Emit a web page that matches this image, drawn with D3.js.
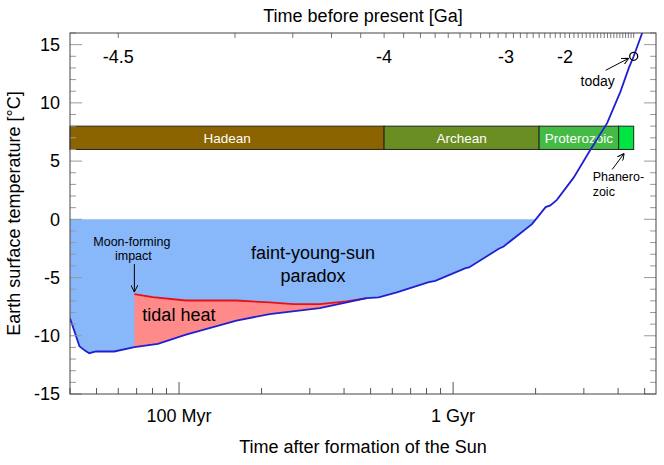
<!DOCTYPE html>
<html>
<head>
<meta charset="UTF-8">
<title>Faint young Sun paradox</title>
<script src="https://cdn.jsdelivr.net/npm/d3@7"></script>
<style>
  body { margin: 0; background: #fff; }
  svg { font-family: "Liberation Sans", Arial, sans-serif; }
</style>
</head>
<body>
<svg id="chart" width="664" height="465"></svg>
<script>
// Earth surface temperature, time after formation of the Sun [Myr]
var tempTime = [40, 41.5, 43.3, 45.2, 47, 49.8, 58, 68.7, 83.7, 106, 162, 214, 326, 484, 535, 623,
                815, 861, 1110, 1143, 1468, 1529, 1940, 2003, 2176, 2263, 2392, 2757, 3170, 3648,
                4080, 4375, 4560, 4950];
var tempC = [-8.5, -9.6, -10.9, -11.25, -11.5, -11.35, -11.35, -10.97, -10.7, -9.91, -8.69, -8.14, -7.62, -6.77, -6.7, -6.28,
             -5.39, -5.28, -4.19, -4.13, -2.53, -2.33, -0.41, 0, 1.05, 1.2, 1.67, 3.6, 5.97, 8.26,
             10.97, 12.98, 14, 16.3];

// tidal heating (top of the red band)
var tidalTime = [68.7, 80.2, 106, 162, 214, 261, 326, 408, 484];
var tidalC = [-6.42, -6.68, -6.97, -6.97, -7.14, -7.28, -7.28, -7.05, -6.77];

// geologic eons [Ga before present]
var eonStart = [4.52, 4.0, 2.5, 0.541];
var eonEnd = [4.0, 2.5, 0.541, 0];
var eonLabels = ["Hadean", "Archean", "Proterozoic", ""];
var eonColors = ["#8b6400", "#6b8e23", "#44bb44", "#00e640"];
var eonBand = [6, 8]; // drawn between these temperatures

// ticks
var bottomTicks = [40, 50, 60, 70, 80, 90, 100, 200, 300, 400, 500, 600, 700, 800, 900, 1000, 2000, 3000, 4000, 5000];
var bottomMajor = [100, 1000];
var bottomLabels = ["100 Myr", "1 Gyr"];
var topTicks = d3.range(-45, 1).map(function(d) { return d / 10; });
var topLabels = [-4.5, -4, -3, -2];
var yTicks = d3.range(-15, 17);

var sunAge = 4560;   // Myr, today
var impactTime = 68.7;

var svg = d3.select("#chart"),
    margin = {top: 33, right: 8, bottom: 71, left: 70},
    W = +svg.attr("width"), H = +svg.attr("height");

var x = d3.scaleLog().domain([40, 5500]).range([margin.left, W - margin.right]);
var y = d3.scaleLinear().domain([-15, 16]).range([H - margin.bottom, margin.top]);
// Ga before present -> Myr after formation
function ago(ga) { return sunAge + ga * 1000; }

var temp = tempTime.map(function(t, i) { return {t: t, v: tempC[i]}; });
var tidal = tidalTime.map(function(t, i) { return {t: t, v: tidalC[i]}; });

var defs = svg.append("defs");
defs.append("clipPath").attr("id", "clip")
  .append("rect")
    .attr("x", x.range()[0]).attr("y", y.range()[1])
    .attr("width", x.range()[1] - x.range()[0])
    .attr("height", y.range()[0] - y.range()[1]);

defs.append("marker")
    .attr("id", "arrow")
    .attr("viewBox", "0 0 10 10")
    .attr("refX", 10).attr("refY", 5)
    .attr("markerWidth", 7).attr("markerHeight", 7)
    .attr("markerUnits", "userSpaceOnUse")
    .attr("orient", "auto")
  .append("path")
    .attr("d", "M0,0 L10,5 L0,10")
    .attr("fill", "none")
    .attr("stroke", "#000")
    .attr("stroke-width", 1.4);

var plot = svg.append("g").attr("clip-path", "url(#clip)");

//------------------------------------------------------------------
// faint-young-sun area (below 0 °C)
var cold = temp.filter(function(d) { return d.v <= 0; });
plot.append("path")
  .datum(cold)
  .attr("fill", "#88b8fa")
  .attr("d", d3.area()
    .x(function(d) { return x(d.t); })
    .y0(y(0))
    .y1(function(d) { return y(d.v); }));

// tidal heat band
var band = tidal.concat(temp.filter(function(d) {
  return d.t >= tidalTime[0] && d.t <= tidalTime[tidalTime.length - 1];
}).reverse());
var line = d3.line()
  .x(function(d) { return x(d.t); })
  .y(function(d) { return y(d.v); });

plot.append("path")
  .attr("fill", "#ff8a8a")
  .attr("d", line(band) + "Z");

plot.append("path")
  .datum(tidal)
  .attr("fill", "none")
  .attr("stroke", "#e8101a")
  .attr("stroke-width", 1.8)
  .attr("d", line);

//------------------------------------------------------------------
// eons
var eon = svg.append("g").selectAll("g")
  .data(eonStart)
  .enter().append("g");

eon.append("rect")
  .attr("x", function(d, i) { return x(ago(-eonStart[i])); })
  .attr("width", function(d, i) { return x(ago(-eonEnd[i])) - x(ago(-eonStart[i])); })
  .attr("y", y(eonBand[1]))
  .attr("height", y(eonBand[0]) - y(eonBand[1]))
  .attr("fill", function(d, i) { return eonColors[i]; })
  .attr("stroke", "#222")
  .attr("stroke-width", 1);

eon.append("text")
  .attr("x", function(d, i) { return (x(ago(-eonStart[i])) + x(ago(-eonEnd[i]))) / 2; })
  .attr("y", y((eonBand[0] + eonBand[1]) / 2))
  .attr("dy", "0.35em")
  .attr("text-anchor", "middle")
  .attr("fill", "#fff")
  .attr("font-size", 13.5)
  .text(function(d, i) { return eonLabels[i]; });

// temperature curve on top
svg.append("g").attr("clip-path", "url(#clip)")
  .append("path")
  .datum(temp)
  .attr("fill", "none")
  .attr("stroke", "#2020d0")
  .attr("stroke-width", 1.8)
  .attr("d", line);

//------------------------------------------------------------------
// frame & ticks
var x0 = x.range()[0], x1 = x.range()[1], yb = y.range()[0], yt = y.range()[1];

var ticks = svg.append("g").attr("fill", "none");

ticks.selectAll(".yl").data(yTicks).enter().append("line")
  .attr("x1", x0).attr("x2", function(d) { return x0 + (d % 5 === 0 ? 12 : 6); })
  .attr("y1", function(d) { return y(d); }).attr("y2", function(d) { return y(d); })
  .attr("stroke", "#999");

ticks.selectAll(".yr").data(yTicks).enter().append("line")
  .attr("x1", x1).attr("x2", function(d) { return x1 - (d % 5 === 0 ? 12 : 6); })
  .attr("y1", function(d) { return y(d); }).attr("y2", function(d) { return y(d); })
  .attr("stroke", "#999");

ticks.selectAll(".xb").data(bottomTicks).enter().append("line")
  .attr("x1", function(d) { return x(d); }).attr("x2", function(d) { return x(d); })
  .attr("y1", yb).attr("y2", function(d) { return yb - (bottomMajor.indexOf(d) >= 0 ? 12 : 6); })
  .attr("stroke", "#555");

ticks.selectAll(".xt").data(topTicks).enter().append("line")
  .attr("x1", function(d) { return x(ago(d)); }).attr("x2", function(d) { return x(ago(d)); })
  .attr("y1", yt).attr("y2", yt + 5)
  .attr("stroke", "#777");

svg.append("rect")
  .attr("x", x0).attr("y", yt)
  .attr("width", x1 - x0).attr("height", yb - yt)
  .attr("fill", "none")
  .attr("stroke", "#444")
  .attr("stroke-width", 1);

// tick labels
var labels = svg.append("g").attr("font-size", 18).attr("fill", "#000");

labels.selectAll(".ylab").data(yTicks.filter(function(d) { return d % 5 === 0; }))
  .enter().append("text")
  .attr("x", x0 - 10)
  .attr("y", function(d) { return y(d); })
  .attr("dy", "0.35em")
  .attr("text-anchor", "end")
  .text(function(d) { return d; });

labels.selectAll(".blab").data(bottomMajor).enter().append("text")
  .attr("x", function(d) { return x(d); })
  .attr("y", yb + 28)
  .attr("text-anchor", "middle")
  .text(function(d, i) { return bottomLabels[i]; });

labels.selectAll(".tlab").data(topLabels).enter().append("text")
  .attr("x", function(d) { return x(ago(d)); })
  .attr("y", yt + 30)
  .attr("text-anchor", "middle")
  .text(function(d) { return d; });

// axis titles
labels.append("text")
  .attr("x", (x0 + x1) / 2).attr("y", 21.5)
  .attr("text-anchor", "middle")
  .text("Time before present [Ga]");

labels.append("text")
  .attr("x", (x0 + x1) / 2).attr("y", 453)
  .attr("text-anchor", "middle")
  .text("Time after formation of the Sun");

labels.append("text")
  .attr("transform", "translate(20," + (yt + yb) / 2 + ") rotate(-90)")
  .attr("text-anchor", "middle")
  .text("Earth surface temperature [\u00B0C]");

//------------------------------------------------------------------
// annotations
var note = svg.append("g").attr("fill", "#000");

note.append("text")
  .attr("x", (x0 + x1) / 2 - 50).attr("y", 259)
  .attr("text-anchor", "middle").attr("font-size", 18)
  .text("faint-young-sun");
note.append("text")
  .attr("x", (x0 + x1) / 2 - 50).attr("y", 281.5)
  .attr("text-anchor", "middle").attr("font-size", 18)
  .text("paradox");

note.append("text")
  .attr("x", x(impactTime) + 8).attr("y", 320.5)
  .attr("font-size", 18)
  .text("tidal heat");

var ix = x(impactTime), iy = y(tidalC[0]);
note.append("text").attr("x", ix - 2.5).attr("y", iy - 48.5)
  .attr("text-anchor", "middle").attr("font-size", 12.5).text("Moon-forming");
note.append("text").attr("x", ix - 1).attr("y", iy - 34)
  .attr("text-anchor", "middle").attr("font-size", 12.5).text("impact");
note.append("line")
  .attr("x1", ix).attr("x2", ix).attr("y1", iy - 30).attr("y2", iy - 2)
  .attr("stroke", "#000").attr("stroke-width", 1)
  .attr("marker-end", "url(#arrow)");

var tx = x(sunAge), ty = y(tempC[tempTime.indexOf(sunAge)]);
note.append("circle")
  .attr("cx", tx).attr("cy", ty).attr("r", 4)
  .attr("fill", "none").attr("stroke", "#000").attr("stroke-width", 1.3);
note.append("line")
  .attr("x1", tx - 28).attr("y1", ty + 14).attr("x2", tx - 5).attr("y2", ty + 2)
  .attr("stroke", "#000").attr("stroke-width", 1)
  .attr("marker-end", "url(#arrow)");
note.append("text").attr("x", tx - 36).attr("y", ty + 30)
  .attr("text-anchor", "middle").attr("font-size", 14).text("today");

var px = (x(ago(-eonStart[3])) + x(ago(0))) / 2, py = y(eonBand[0]);
note.append("line")
  .attr("x1", px - 14).attr("y1", py + 20).attr("x2", px - 2).attr("y2", py + 4)
  .attr("stroke", "#000").attr("stroke-width", 1)
  .attr("marker-end", "url(#arrow)");
note.append("text").attr("x", px - 33.5).attr("y", py + 32)
  .attr("font-size", 12.5).text("Phanero-");
note.append("text").attr("x", px - 33.5).attr("y", py + 46.5)
  .attr("font-size", 12.5).text("zoic");
</script>
</body>
</html>
